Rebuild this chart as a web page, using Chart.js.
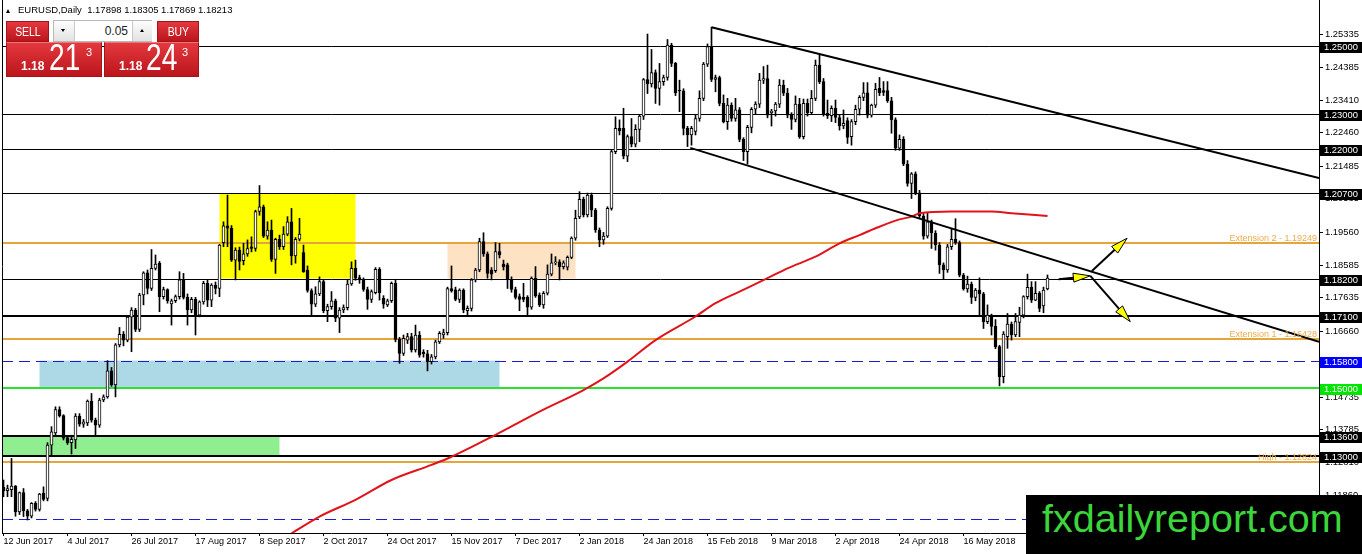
<!DOCTYPE html>
<html lang="en">
<head>
<meta charset="UTF-8">
<title>EURUSD,Daily</title>
<script src="https://cdn.jsdelivr.net/npm/chart.js"></script>
<style>
    html, body { margin: 0; padding: 0; background: #fff; }
    body { position: relative; width: 1362px; height: 554px; overflow: hidden;
           font-family: 'Liberation Sans', Arial, sans-serif; }
    #chart { position: absolute; left: 0; top: 0; }
    #title { position: absolute; left: 18px; top: 4px; font-size: 9.5px; line-height: 12px; white-space: pre; color: #000; }
    #tri { position: absolute; left: 6px; top: 9px; width: 0; height: 0;
           border-left: 2.5px solid transparent; border-right: 2.5px solid transparent; border-bottom: 4px solid #000; }
    .red { position: absolute; box-sizing: border-box; color: #fff;
           background: linear-gradient(#e3383e, #bb151c); border: 1px solid #a5121a; }
    .btn { top: 21px; height: 21px; font-size: 13px; line-height: 19px; text-align: center; }
    .btn span { display: inline-block; transform: scaleX(0.8); }
    #sell { left: 6px; width: 43px; }
    #buy { left: 157px; width: 42px; }
    .px { top: 42px; width: 96px; height: 35px; border-top-color: #e9777b; }
    #sellPx { left: 6px; }
    #buyPx { left: 104px; width: 95px; }
    .px .s { position: absolute; font-size: 12px; font-weight: bold; line-height: 12px; top: 17px; }
    .px .b { position: absolute; font-size: 37px; line-height: 37px; top: -4px; transform: scaleX(0.76); transform-origin: left top; }
    .px .p { position: absolute; font-size: 11px; line-height: 11px; top: 4px; }
    #lot { position: absolute; left: 53px; top: 20px; width: 99px; height: 22px; box-sizing: border-box;
           border: 1px solid #b9b9b9; background: #f0f0f0; }
    #lot .k { position: absolute; top: 0; height: 20px; background: linear-gradient(#fdfdfd, #e2e2e2); }
    #dn { left: 0; width: 20px; border-right: 1px solid #c9c9c9; }
    #up { left: 78px; width: 19px; border-left: 1px solid #c9c9c9; }
    #val { position: absolute; left: 21px; top: 0; width: 57px; height: 20px; background: #fff;
           font-size: 12px; line-height: 20px; text-align: right; color: #222; }
    #val span { display: inline-block; padding-right: 4px; }
    .tdn { position: absolute; left: 7px; top: 8px; width: 0; height: 0;
           border-left: 2.5px solid transparent; border-right: 2.5px solid transparent; border-top: 3px solid #000; }
    .tup { position: absolute; left: 7px; top: 8px; width: 0; height: 0;
           border-left: 2.5px solid transparent; border-right: 2.5px solid transparent; border-bottom: 3px solid #000; }
    #brand { position: absolute; left: 1026px; top: 495px; width: 336px; height: 59px; background: #000; }
    #brand span { position: absolute; left: 16px; top: 4px; font-size: 39.5px; line-height: 39.5px;
                  color: #3cd63c; white-space: nowrap; }
</style>
</head>
<body>
<canvas id="chart" width="1362" height="554"></canvas>

<div id="tri"></div>
<div id="title">EURUSD,Daily  1.17898 1.18305 1.17869 1.18213</div>

<div id="sell" class="red btn"><span>SELL</span></div>
<div id="lot">
    <div id="dn" class="k"><div class="tdn"></div></div>
    <div id="val"><span>0.05</span></div>
    <div id="up" class="k"><div class="tup"></div></div>
</div>
<div id="buy" class="red btn"><span>BUY</span></div>
<div id="sellPx" class="red px">
    <span class="s" style="left:14px">1.18</span><span class="b" style="left:42px">21</span><span class="p" style="left:79px">3</span>
</div>
<div id="buyPx" class="red px">
    <span class="s" style="left:14px">1.18</span><span class="b" style="left:41px">24</span><span class="p" style="left:77px">3</span>
</div>

<div id="brand"><span>fxdailyreport.com</span></div>

<script>
    // date labels under the chart, one every 16 daily bars
    const dateLabels = ['12 Jun 2017', '4 Jul 2017', '26 Jul 2017', '17 Aug 2017', '8 Sep 2017', '2 Oct 2017',
        '24 Oct 2017', '15 Nov 2017', '7 Dec 2017', '2 Jan 2018', '24 Jan 2018', '15 Feb 2018',
        '9 Mar 2018', '2 Apr 2018', '24 Apr 2018', '16 May 2018'];
    const labelBars = [0, 16, 32, 48, 64, 80, 96, 112, 128, 144, 160, 176, 192, 208, 224, 240];

    // daily candles (bar 0 = 12 Jun 2017)
    const opens = [
        1.1210, 1.1200, 1.1203, 1.1213, 1.1138, 1.1194, 1.1141, 1.1125, 1.1163, 1.1145,
        1.1192, 1.1177, 1.1333, 1.1369, 1.1437, 1.1419, 1.1355, 1.1340, 1.1348, 1.1418,
        1.1394, 1.1398, 1.1462, 1.1406, 1.1391, 1.1465, 1.1474, 1.1550, 1.1509, 1.1626,
        1.1657, 1.1640, 1.1707, 1.1728, 1.1671, 1.1772, 1.1837, 1.1791, 1.1850, 1.1865,
        1.1767, 1.1788, 1.1746, 1.1755, 1.1767, 1.1816, 1.1765, 1.1728, 1.1759, 1.1713,
        1.1752, 1.1806, 1.1757, 1.1801, 1.1791, 1.1925, 1.1974, 1.1967, 1.1874, 1.1903,
        1.1872, 1.1892, 1.1913, 1.1908, 1.2016, 1.2030, 1.1944, 1.1962, 1.1876, 1.1935,
        1.1913, 1.1950, 1.1986, 1.1886, 1.1935, 1.1896, 1.1845, 1.1785, 1.1745, 1.1775,
        1.1811, 1.1726, 1.1738, 1.1755, 1.1704, 1.1728, 1.1735, 1.1804, 1.1850, 1.1823,
        1.1816, 1.1788, 1.1759, 1.1779, 1.1847, 1.1762, 1.1743, 1.1755, 1.1806, 1.1642,
        1.1601, 1.1640, 1.1650, 1.1611, 1.1655, 1.1605, 1.1600, 1.1577, 1.1591, 1.1635,
        1.1655, 1.1662, 1.1791, 1.1787, 1.1759, 1.1786, 1.1726, 1.1733, 1.1816, 1.1845,
        1.1928, 1.1892, 1.1845, 1.1843, 1.1899, 1.1862, 1.1860, 1.1818, 1.1788, 1.1767,
        1.1765, 1.1765, 1.1736, 1.1821, 1.1772, 1.1743, 1.1777, 1.1833, 1.1866, 1.1869,
        1.1855, 1.1853, 1.1882, 1.1938, 1.2000, 1.2052, 1.2006, 1.2064, 1.2020, 1.1962,
        1.1933, 1.1944, 1.2025, 1.2191, 1.2259, 1.2259, 1.2178, 1.2235, 1.2213, 1.2256,
        1.2295, 1.2402, 1.2389, 1.2422, 1.2376, 1.2396, 1.2408, 1.2503, 1.2449, 1.2371,
        1.2369, 1.2259, 1.2240, 1.2250, 1.2288, 1.2347, 1.2447, 1.2498, 1.2402, 1.2408,
        1.2332, 1.2279, 1.2327, 1.2288, 1.2313, 1.2227, 1.2191, 1.2262, 1.2315, 1.2330,
        1.2400, 1.2405, 1.2305, 1.2310, 1.2330, 1.2386, 1.2362, 1.2298, 1.2285, 1.2330,
        1.2235, 1.2332, 1.2305, 1.2347, 1.2444, 1.2396, 1.2303, 1.2296, 1.2318, 1.2291,
        1.2266, 1.2282, 1.2235, 1.2279, 1.2315, 1.2350, 1.2363, 1.2298, 1.2327, 1.2376,
        1.2370, 1.2370, 1.2340, 1.2284, 1.2201, 1.2227, 1.2155, 1.2098, 1.2126, 1.2071,
        1.2003, 1.1944, 1.1986, 1.1952, 1.1918, 1.1860, 1.1845, 1.1913, 1.1935, 1.1925,
        1.1830, 1.1790, 1.1804, 1.1765, 1.1786, 1.1775, 1.1694, 1.1713, 1.1680, 1.1621,
        1.1533, 1.1650, 1.1687, 1.1655, 1.1692, 1.1713, 1.1767, 1.1794, 1.1757, 1.1777,
        1.1740, 1.17898];
    const highs = [
        1.1231, 1.1216, 1.1294, 1.1215, 1.1196, 1.1206, 1.1145, 1.1165, 1.1168, 1.1192,
        1.1211, 1.1340, 1.1387, 1.1445, 1.1445, 1.1422, 1.1360, 1.1362, 1.1425, 1.1425,
        1.1408, 1.1465, 1.1484, 1.1412, 1.1470, 1.1480, 1.1580, 1.1560, 1.1630, 1.1677,
        1.1665, 1.1712, 1.1735, 1.1733, 1.1777, 1.1840, 1.1845, 1.1905, 1.1889, 1.1870,
        1.1795, 1.1790, 1.1760, 1.1772, 1.1840, 1.1835, 1.1775, 1.1765, 1.1765, 1.1755,
        1.1812, 1.1815, 1.1805, 1.1810, 1.1920, 1.1986, 1.2064, 1.1975, 1.1910, 1.1912,
        1.1923, 1.1933, 1.1942, 1.2020, 1.2092, 1.2035, 1.1986, 1.1991, 1.1938, 1.1947,
        1.1972, 1.2001, 1.2025, 1.1940, 1.1996, 1.1918, 1.1857, 1.1790, 1.1796, 1.1825,
        1.1815, 1.1745, 1.1782, 1.1760, 1.1735, 1.1743, 1.1816, 1.1869, 1.1874, 1.1830,
        1.1822, 1.1795, 1.1787, 1.1852, 1.1852, 1.1770, 1.1760, 1.1810, 1.1818, 1.1648,
        1.1655, 1.1660, 1.1660, 1.1684, 1.1665, 1.1612, 1.1610, 1.1598, 1.1640, 1.1665,
        1.1672, 1.1795, 1.1857, 1.1795, 1.1790, 1.1790, 1.1740, 1.1820, 1.1850, 1.1938,
        1.1954, 1.1898, 1.1852, 1.1925, 1.1923, 1.1874, 1.1865, 1.1825, 1.1795, 1.1775,
        1.1806, 1.1770, 1.1825, 1.1855, 1.1778, 1.1782, 1.1860, 1.1892, 1.1884, 1.1875,
        1.1872, 1.1886, 1.1942, 1.2020, 1.2074, 1.2058, 1.2070, 1.2070, 1.2025, 1.1968,
        1.1955, 1.2030, 1.2195, 1.2293, 1.2284, 1.2318, 1.2240, 1.2288, 1.2270, 1.2300,
        1.2405, 1.2535, 1.2490, 1.2430, 1.2449, 1.2415, 1.2519, 1.2508, 1.2452, 1.2400,
        1.2375, 1.2265, 1.2265, 1.2298, 1.2369, 1.2452, 1.2506, 1.2555, 1.2415, 1.2412,
        1.2357, 1.2347, 1.2334, 1.2347, 1.2320, 1.2232, 1.2268, 1.2320, 1.2337, 1.2420,
        1.2440, 1.2444, 1.2315, 1.2335, 1.2402, 1.2400, 1.2376, 1.2305, 1.2354, 1.2347,
        1.2345, 1.2345, 1.2370, 1.2459, 1.2474, 1.2405, 1.2342, 1.2325, 1.2342, 1.2300,
        1.2313, 1.2290, 1.2285, 1.2327, 1.2355, 1.2393, 1.2393, 1.2330, 1.2391, 1.2408,
        1.2396, 1.2396, 1.2350, 1.2290, 1.2240, 1.2235, 1.2165, 1.2130, 1.2132, 1.2078,
        1.2010, 1.2011, 1.1991, 1.1960, 1.1925, 1.1866, 1.1920, 1.1967, 1.1995, 1.1930,
        1.1835, 1.1827, 1.1810, 1.1791, 1.1822, 1.1780, 1.1743, 1.1716, 1.1700, 1.1625,
        1.1665, 1.1718, 1.1693, 1.1718, 1.1736, 1.1770, 1.1833, 1.1811, 1.1811, 1.1782,
        1.1795, 1.18305];
    const lows = [
        1.1182, 1.1182, 1.1182, 1.1125, 1.1130, 1.1124, 1.1114, 1.1120, 1.1140, 1.1140,
        1.1170, 1.1170, 1.1299, 1.1360, 1.1415, 1.1348, 1.1335, 1.1307, 1.1323, 1.1388,
        1.1385, 1.1390, 1.1400, 1.1362, 1.1385, 1.1460, 1.1470, 1.1505, 1.1474, 1.1620,
        1.1623, 1.1635, 1.1606, 1.1665, 1.1665, 1.1743, 1.1775, 1.1785, 1.1845, 1.1723,
        1.1760, 1.1748, 1.1684, 1.1750, 1.1760, 1.1760, 1.1684, 1.1720, 1.1655, 1.1708,
        1.1745, 1.1738, 1.1738, 1.1775, 1.1767, 1.1913, 1.1913, 1.1870, 1.1816, 1.1845,
        1.1860, 1.1885, 1.1898, 1.1900, 1.2005, 1.1940, 1.1935, 1.1870, 1.1835, 1.1905,
        1.1905, 1.1945, 1.1860, 1.1865, 1.1930, 1.1838, 1.1780, 1.1713, 1.1738, 1.1770,
        1.1720, 1.1694, 1.1730, 1.1694, 1.1662, 1.1720, 1.1728, 1.1800, 1.1815, 1.1806,
        1.1783, 1.1730, 1.1750, 1.1775, 1.1757, 1.1733, 1.1738, 1.1750, 1.1635, 1.1572,
        1.1595, 1.1630, 1.1605, 1.1605, 1.1590, 1.1590, 1.1550, 1.1570, 1.1585, 1.1630,
        1.1645, 1.1655, 1.1780, 1.1755, 1.1750, 1.1720, 1.1713, 1.1725, 1.1810, 1.1840,
        1.1885, 1.1821, 1.1816, 1.1838, 1.1880, 1.1845, 1.1791, 1.1780, 1.1760, 1.1726,
        1.1752, 1.1713, 1.1730, 1.1765, 1.1738, 1.1733, 1.1772, 1.1828, 1.1860, 1.1816,
        1.1848, 1.1845, 1.1878, 1.1932, 1.1995, 1.2000, 1.2000, 1.2001, 1.1955, 1.1913,
        1.1920, 1.1940, 1.2020, 1.2185, 1.2240, 1.2170, 1.2162, 1.2205, 1.2205, 1.2220,
        1.2285, 1.2361, 1.2380, 1.2332, 1.2327, 1.2385, 1.2400, 1.2440, 1.2355, 1.2308,
        1.2240, 1.2206, 1.2210, 1.2240, 1.2280, 1.2340, 1.2440, 1.2396, 1.2366, 1.2325,
        1.2275, 1.2256, 1.2280, 1.2280, 1.2220, 1.2165, 1.2155, 1.2246, 1.2300, 1.2320,
        1.2390, 1.2290, 1.2266, 1.2295, 1.2320, 1.2355, 1.2290, 1.2256, 1.2278, 1.2230,
        1.2228, 1.2295, 1.2300, 1.2340, 1.2390, 1.2295, 1.2288, 1.2279, 1.2276, 1.2254,
        1.2258, 1.2215, 1.2210, 1.2270, 1.2298, 1.2340, 1.2290, 1.2292, 1.2320, 1.2355,
        1.2355, 1.2335, 1.2245, 1.2195, 1.2195, 1.2150, 1.2090, 1.2054, 1.2065, 1.1995,
        1.1935, 1.1938, 1.1908, 1.1903, 1.1835, 1.1818, 1.1838, 1.1905, 1.1920, 1.1825,
        1.1786, 1.1780, 1.1747, 1.1755, 1.1712, 1.1674, 1.1688, 1.1655, 1.1615, 1.1506,
        1.1515, 1.1616, 1.1640, 1.1650, 1.1650, 1.1705, 1.1760, 1.1750, 1.1755, 1.1723,
        1.1720, 1.17869];
    const closes = [
        1.1199, 1.1206, 1.1213, 1.1138, 1.1194, 1.1141, 1.1125, 1.1163, 1.1145, 1.1190,
        1.1174, 1.1333, 1.1372, 1.1437, 1.1419, 1.1353, 1.1340, 1.1350, 1.1418, 1.1394,
        1.1401, 1.1462, 1.1406, 1.1391, 1.1465, 1.1474, 1.1550, 1.1509, 1.1626, 1.1657,
        1.1640, 1.1707, 1.1728, 1.1671, 1.1772, 1.1837, 1.1791, 1.1850, 1.1862, 1.1767,
        1.1788, 1.1755, 1.1755, 1.1767, 1.1816, 1.1765, 1.1728, 1.1759, 1.1713, 1.1752,
        1.1806, 1.1757, 1.1801, 1.1791, 1.1918, 1.1974, 1.1967, 1.1874, 1.1903, 1.1870,
        1.1892, 1.1908, 1.1908, 1.2016, 1.2030, 1.1944, 1.1962, 1.1876, 1.1935, 1.1913,
        1.1950, 1.1986, 1.1886, 1.1935, 1.1950, 1.1840, 1.1785, 1.1745, 1.1775, 1.1811,
        1.1726, 1.1738, 1.1755, 1.1704, 1.1728, 1.1735, 1.1804, 1.1850, 1.1821, 1.1816,
        1.1788, 1.1759, 1.1782, 1.1847, 1.1779, 1.1745, 1.1755, 1.1806, 1.1642, 1.1601,
        1.1645, 1.1650, 1.1611, 1.1655, 1.1596, 1.1600, 1.1577, 1.1591, 1.1635, 1.1660,
        1.1662, 1.1791, 1.1784, 1.1759, 1.1786, 1.1728, 1.1733, 1.1816, 1.1845, 1.1928,
        1.1892, 1.1835, 1.1833, 1.1899, 1.1889, 1.1855, 1.1818, 1.1788, 1.1765, 1.1759,
        1.1759, 1.1736, 1.1821, 1.1769, 1.1743, 1.1777, 1.1833, 1.1866, 1.1869, 1.1855,
        1.1866, 1.1882, 1.1938, 1.1996, 1.2052, 1.2006, 1.2064, 1.2020, 1.1962, 1.1933,
        1.1944, 1.2025, 1.2191, 1.2259, 1.2252, 1.2178, 1.2235, 1.2213, 1.2256, 1.2295,
        1.2402, 1.2389, 1.2422, 1.2376, 1.2396, 1.2408, 1.2503, 1.2449, 1.2363, 1.2369,
        1.2259, 1.2240, 1.2259, 1.2288, 1.2347, 1.2447, 1.2498, 1.2402, 1.2408, 1.2332,
        1.2279, 1.2327, 1.2288, 1.2313, 1.2227, 1.2191, 1.2262, 1.2315, 1.2330, 1.2400,
        1.2405, 1.2298, 1.2310, 1.2330, 1.2386, 1.2362, 1.2298, 1.2285, 1.2330, 1.2235,
        1.2332, 1.2305, 1.2347, 1.2444, 1.2396, 1.2301, 1.2296, 1.2318, 1.2291, 1.2266,
        1.2274, 1.2233, 1.2279, 1.2315, 1.2350, 1.2363, 1.2298, 1.2327, 1.2373, 1.2363,
        1.2364, 1.2340, 1.2284, 1.2201, 1.2227, 1.2155, 1.2098, 1.2126, 1.2071, 1.2003,
        1.1944, 1.1986, 1.1954, 1.1918, 1.1860, 1.1845, 1.1913, 1.1935, 1.1925, 1.1830,
        1.1790, 1.1804, 1.1765, 1.1786, 1.1775, 1.1694, 1.1713, 1.1680, 1.1621, 1.1533,
        1.1658, 1.1687, 1.1655, 1.1694, 1.1713, 1.1767, 1.1794, 1.1757, 1.1777, 1.1733,
        1.1786, 1.18213];

    // red moving average, read at these bars
    const maBars = [72, 79, 88, 97, 107, 112, 123, 134, 145, 150, 156, 163, 173, 178,
        184, 191, 196, 203, 209, 214, 218, 224, 227, 229, 237, 247, 252, 261];
    const maValues = [1.1075, 1.1124, 1.1173, 1.1231, 1.1275, 1.1299, 1.1363, 1.1431, 1.1494, 1.1528,
        1.1577, 1.1640, 1.1709, 1.1748, 1.1782, 1.1821, 1.1850, 1.1884, 1.1923, 1.1947,
        1.1967, 1.1993, 1.2001, 1.2011, 1.2016, 1.2016, 1.2011, 1.2003];

    // price scale
    const axisTicks = [1.25335, 1.24385, 1.23410, 1.22460, 1.21485, 1.20535, 1.19560, 1.18585,
        1.17635, 1.16660, 1.15710, 1.14735, 1.13785, 1.12810, 1.11860];

    // horizontal levels and the price boxes on the axis
    const levelPrices = [1.25, 1.23, 1.22, 1.207, 1.19249, 1.182, 1.171, 1.16428, 1.158, 1.15, 1.136, 1.13, 1.12824, 1.1117];
    const levelKinds = ['thin', 'thin', 'thin', 'thin', 'ext', 'thin', 'thick', 'ext', 'dash', 'green', 'thick', 'thick', 'ext', 'dash'];
    const boxPrices = [1.25, 1.23, 1.22, 1.207, 1.182, 1.171, 1.158, 1.15, 1.136, 1.13];
    const extPrices = [1.19249, 1.16428, 1.12824];
    const extTexts = ['Extension 2 - 1.19249', 'Extension 1 - 1.16428', 'High - 1.12824'];

    // rectangles: [first bar, last bar] and [low, high]
    const zoneBars = [[54, 88], [111, 143], [9, 124], [-0.4, 69]];
    const zonePrices = [[1.182, 1.207], [1.182, 1.19249], [1.15, 1.158], [1.13, 1.136]];

    // trend lines and arrows, as [bar, price]
    const upperTrend = [[177, 1.2555], [328.875, 1.2114]];
    const lowerTrend = [[171.7, 1.2202], [328.875, 1.1635]];
    const arrowFrom = [[263.8, 1.1818], [272.1, 1.1842], [271.7, 1.1828]];
    const arrowTo = [[271.7, 1.1828], [280.9, 1.1938], [281.7, 1.1694]];

    // styles
    const levelStyle = {
        thin: { color: '#000000', width: 1, dash: [] },
        thick: { color: '#000000', width: 2, dash: [] },
        ext: { color: '#e6a53c', width: 2, dash: [] },
        dash: { color: '#1c1cd0', width: 1, dash: [11, 6] },
        green: { color: '#2ee02e', width: 2, dash: [] }
    };
    const zoneColors = ['#ffff00', '#fde2c3', '#add8e6', '#90ee90'];
    const boxColors = ['#000', '#000', '#000', '#000', '#000', '#000', '#0000ff', '#00e600', '#000', '#000'];
    const FONT = "'Liberation Sans', Arial, sans-serif";

    const barIdx = closes.map((c, i) => i);
    const wickData = barIdx.map(i => ({ x: i, y: [lows[i], highs[i]] }));
    const bodyData = barIdx.map(i => ({ x: i, y: [Math.min(opens[i], closes[i]), Math.max(opens[i], closes[i])] }));
    const bodyFill = barIdx.map(i => closes[i] >= opens[i] ? '#ffffff' : '#000000');
    const toXY = pts => pts.map(p => ({ x: p[0], y: p[1] }));

    function drawArrow(ctx, x0, y0, x1, y1) {
        const a = Math.atan2(y1 - y0, x1 - x0);
        const len = 17, half = 4.5;
        const bx = x1 - len * Math.cos(a), by = y1 - len * Math.sin(a);
        ctx.strokeStyle = '#000';
        ctx.lineWidth = 2;
        ctx.beginPath();
        ctx.moveTo(x0, y0);
        ctx.lineTo(bx, by);
        ctx.stroke();
        ctx.beginPath();
        ctx.moveTo(x1, y1);
        ctx.lineTo(bx - half * Math.sin(a), by + half * Math.cos(a));
        ctx.lineTo(bx + half * Math.sin(a), by - half * Math.cos(a));
        ctx.closePath();
        ctx.fillStyle = '#ffff00';
        ctx.fill();
        ctx.lineWidth = 1;
        ctx.stroke();
    }

    // no extra room for the first/last tick label, the plot fills the frame like MT4
    function noPadding(s) {
        s.paddingTop = 0;
        s.paddingBottom = 0;
        s.paddingLeft = 0;
        s.paddingRight = 0;
    }

    // rectangles, levels, arrows, labels - all placed through the chart scales
    const overlays = {
        id: 'overlays',
        beforeDatasetsDraw(chart) {
            const { ctx, chartArea: a, scales: { x, y } } = chart;
            ctx.save();
            ctx.beginPath();
            ctx.rect(a.left, a.top, a.right - a.left, a.bottom - a.top);
            ctx.clip();
            zoneBars.forEach((b, i) => {
                const x0 = x.getPixelForValue(b[0]), x1 = x.getPixelForValue(b[1]);
                const y0 = y.getPixelForValue(zonePrices[i][1]), y1 = y.getPixelForValue(zonePrices[i][0]);
                ctx.fillStyle = zoneColors[i];
                ctx.fillRect(x0, y0, x1 - x0, y1 - y0);
            });
            levelPrices.forEach((p, i) => {
                const st = levelStyle[levelKinds[i]];
                let py = Math.round(y.getPixelForValue(p));
                if (st.width === 1) py += 0.5;
                ctx.strokeStyle = st.color;
                ctx.lineWidth = st.width;
                ctx.setLineDash(st.dash);
                ctx.beginPath();
                ctx.moveTo(a.left, py);
                ctx.lineTo(a.right, py);
                ctx.stroke();
            });
            ctx.setLineDash([]);
            ctx.restore();
        },
        afterDatasetsDraw(chart) {
            const { ctx, chartArea: a, scales: { x, y } } = chart;
            ctx.save();
            arrowFrom.forEach((f, i) => {
                drawArrow(ctx, x.getPixelForValue(f[0]), y.getPixelForValue(f[1]),
                    x.getPixelForValue(arrowTo[i][0]), y.getPixelForValue(arrowTo[i][1]));
            });
            ctx.font = '9px ' + FONT;
            ctx.fillStyle = '#eeab48';
            ctx.textAlign = 'right';
            ctx.textBaseline = 'alphabetic';
            extPrices.forEach((p, i) => {
                ctx.fillText(extTexts[i], a.right - 2, Math.round(y.getPixelForValue(p)) - 2);
            });
            ctx.restore();
        },
        afterDraw(chart) {
            const { ctx, chartArea: a, scales: { y } } = chart;
            ctx.save();
            ctx.strokeStyle = '#000';
            ctx.lineWidth = 1;
            ctx.beginPath();
            ctx.moveTo(a.left + 0.5, a.top);
            ctx.lineTo(a.left + 0.5, a.bottom);
            ctx.stroke();
            ctx.font = '9.4px ' + FONT;
            ctx.textAlign = 'left';
            ctx.textBaseline = 'middle';
            boxPrices.forEach((p, i) => {
                const py = Math.round(y.getPixelForValue(p));
                ctx.fillStyle = boxColors[i];
                ctx.fillRect(a.right + 1, py - 4, 43, 11);
                ctx.fillStyle = '#fff';
                ctx.fillText(p.toFixed(5), a.right + 5, py + 1.5);
            });
            ctx.restore();
        }
    };

    Chart.defaults.font.family = FONT;

    new Chart(document.getElementById('chart').getContext('2d'), {
        type: 'bar',
        data: {
            datasets: [
                {
                    type: 'line', data: toXY(upperTrend), borderColor: '#000', borderWidth: 2,
                    pointRadius: 0, order: 0
                },
                {
                    type: 'line', data: toXY(lowerTrend), borderColor: '#000', borderWidth: 2,
                    pointRadius: 0, order: 0
                },
                {
                    type: 'line', data: maBars.map((b, i) => ({ x: b, y: maValues[i] })),
                    borderColor: '#e0141a', borderWidth: 2, pointRadius: 0,
                    cubicInterpolationMode: 'monotone', order: 1
                },
                {
                    data: bodyData, backgroundColor: bodyFill, borderColor: '#000', borderWidth: 1,
                    borderSkipped: false, barThickness: 3, grouped: false, order: 2
                },
                {
                    data: wickData, backgroundColor: '#000', borderWidth: 0,
                    barThickness: 1, grouped: false, order: 3
                }
            ]
        },
        options: {
            responsive: false,
            animation: false,
            events: [],
            layout: { padding: { left: 2, right: 0, top: 0, bottom: 0 } },
            plugins: { legend: { display: false }, tooltip: { enabled: false } },
            scales: {
                x: {
                    type: 'linear',
                    min: -0.375,
                    max: 328.875,
                    offset: false,
                    afterBuildTicks: s => { s.ticks = labelBars.map(v => ({ value: v })); },
                    afterFit: s => { s.height = 21; noPadding(s); },
                    ticks: {
                        autoSkip: false, maxRotation: 0, align: 'start', padding: 0, color: '#000',
                        font: { size: 9 },
                        callback: v => dateLabels[labelBars.indexOf(v)]
                    },
                    grid: { drawOnChartArea: false, drawTicks: true, tickLength: 3, color: '#000', offset: false },
                    border: { display: true, color: '#000', width: 1 }
                },
                y: {
                    type: 'linear',
                    position: 'right',
                    min: 1.10760,
                    max: 1.26345,
                    afterBuildTicks: s => { s.ticks = axisTicks.map(v => ({ value: v })); },
                    afterFit: s => { s.width = 43; noPadding(s); },
                    ticks: {
                        autoSkip: false, padding: 2, color: '#000', font: { size: 9.4 },
                        callback: v => v.toFixed(5)
                    },
                    grid: { drawOnChartArea: false, drawTicks: true, tickLength: 4, color: '#000' },
                    border: { display: true, color: '#000', width: 1 }
                }
            }
        },
        plugins: [overlays]
    });
</script>
</body>
</html>
